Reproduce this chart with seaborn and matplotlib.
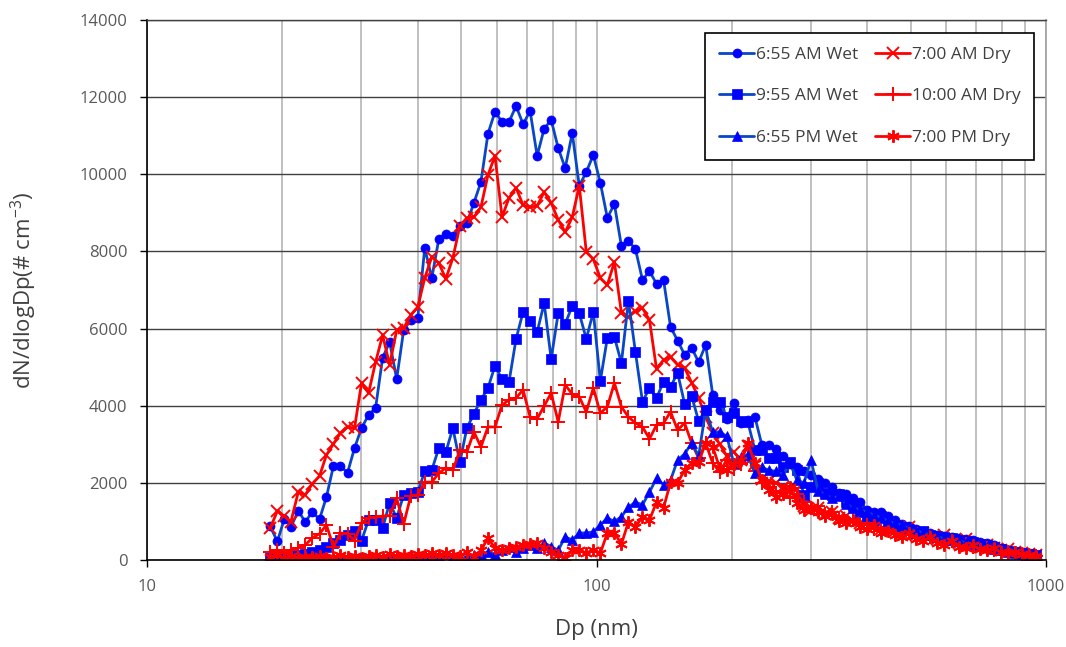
import numpy as np
import pandas as pd
import matplotlib
matplotlib.use("Agg")
import matplotlib.pyplot as plt
import seaborn as sns
from matplotlib.ticker import FixedLocator, NullFormatter

# particle diameter bins (nm), 64 channels per decade
dp = [18.8, 19.5, 20.2, 20.9, 21.7, 22.5, 23.3, 24.2,
      25.07, 25.99, 26.94, 27.93, 28.95, 30.01, 31.11, 32.25,
      33.43, 34.66, 35.93, 37.24, 38.61, 40.02, 41.49, 43.01,
      44.58, 46.22, 47.91, 49.66, 51.48, 53.37, 55.32, 57.35,
      59.45, 61.63, 63.89, 66.23, 68.65, 71.17, 73.78, 76.48,
      79.28, 82.18, 85.19, 88.32, 91.55, 94.90, 98.38, 101.98,
      105.72, 109.59, 113.61, 117.77, 122.08, 126.56, 131.19, 136.00,
      140.98, 146.14, 151.50, 157.05, 162.80, 168.76, 174.95, 181.36,
      188.0, 194.9, 202.0, 209.4, 217.1, 225.1, 233.3, 241.8,
      250.7, 259.9, 269.4, 279.3, 289.5, 300.1, 311.1, 322.5,
      334.3, 346.6, 359.3, 372.4, 386.1, 400.2, 414.9, 430.1,
      445.8, 462.2, 479.1, 496.6, 514.8, 533.7, 553.2, 573.5,
      594.5, 616.3, 638.9, 662.3, 686.5, 711.7, 737.8, 764.8,
      792.8, 821.8, 851.9, 883.2, 915.5, 949.0]

wet_0655am = [870, 480, 1060, 860, 1270, 990, 1240, 1060, 1630, 2440,
              2440, 2260, 2900, 3420, 3760, 3940, 5240, 5650, 4690, 5960,
              6220, 6270, 8090, 7310, 8320, 8450, 8400, 8660, 8740, 9260,
              9800, 11050, 11620, 11360, 11360, 11770, 11300, 11640, 10480, 11180,
              11410, 10680, 10160, 11070, 9700, 10060, 10500, 9780, 8870, 9230,
              8140, 8270, 8060, 7260, 7490, 7160, 7260, 6040, 5690, 5320,
              5500, 5130, 5580, 4280, 3890, 3660, 4070, 3550, 3630, 3710,
              2980, 2980, 2880, 2700, 2500, 2400, 2300, 2200, 2100, 2000,
              1900, 1750, 1700, 1600, 1500, 1300, 1250, 1240, 1150, 1050,
              930, 880, 800, 760, 700, 660, 620, 600, 580, 540,
              520, 470, 430, 380, 320, 260, 220, 190, 160, 140]

dry_0700am = [830, 1270, 1140, 990, 1760, 1690, 1970, 2180, 2720, 3010,
              3290, 3450, 3420, 4590, 4330, 5130, 5830, 5060, 5960, 6010,
              6350, 6560, 7310, 7860, 7700, 7290, 7830, 8660, 8870, 8890,
              9150, 9980, 10480, 8890, 9390, 9650, 9200, 9150, 9180, 9540,
              9260, 8820, 8500, 8890, 9700, 7990, 7800, 7310, 7130, 7730,
              6400, 6300, 6450, 6530, 6220, 4950, 5190, 5260, 5060, 4980,
              4600, 4200, 3700, 3300, 3000, 2700, 2800, 2600, 2950, 2500,
              2100, 2050, 2000, 1900, 1800, 1850, 1400, 1300, 1350, 1200,
              1250, 1100, 1150, 1000, 950, 1050, 850, 800, 900, 750,
              700, 850, 650, 700, 600, 550, 650, 500, 450, 550,
              400, 350, 380, 300, 250, 280, 200, 180, 150, 120]

wet_0955am = [50, 80, 60, 100, 130, 150, 200, 250, 340, 440,
              520, 650, 750, 500, 1040, 1040, 830, 1480, 1090, 1690,
              1740, 1760, 2300, 2330, 2900, 2800, 3420, 2540, 3420, 3790,
              4150, 4460, 5030, 4690, 4620, 5730, 6430, 6200, 5910, 6660,
              5210, 6400, 6120, 6590, 6400, 5730, 6430, 4640, 5760, 5780,
              5110, 6720, 5390, 4100, 4460, 4200, 4620, 4490, 4850, 4050,
              4250, 3600, 3900, 4100, 4100, 3700, 3810, 3600, 3580, 2850,
              2850, 2650, 2650, 2400, 2540, 2330, 1690, 1900, 2000, 1740,
              1690, 1700, 1500, 1400, 1250, 1100, 1040, 1150, 950, 900,
              850, 800, 700, 750, 650, 620, 600, 560, 520, 500,
              470, 420, 380, 330, 280, 230, 200, 180, 150, 130]

dry_1000am = [210, 260, 180, 250, 310, 390, 570, 680, 910, 340,
              700, 680, 500, 960, 1090, 1110, 1140, 1150, 1600, 930,
              1660, 1690, 2020, 2020, 2250, 2390, 2330, 2850, 2800, 3320,
              2930, 3450, 3450, 4020, 4150, 4200, 4410, 3710, 3660, 3990,
              4330, 3580, 4540, 4300, 4230, 3840, 4460, 3810, 3970, 4590,
              3970, 3710, 3550, 3450, 3140, 3500, 3550, 3840, 3370, 3550,
              3030, 2640, 3030, 2510, 2280, 2600, 2350, 2500, 2700, 2300,
              2000, 1900, 1750, 1800, 1600, 1700, 1500, 1350, 1400, 1200,
              1250, 1100, 1000, 1050, 900, 950, 800, 750, 850, 700,
              650, 700, 600, 550, 600, 500, 450, 500, 400, 420,
              350, 300, 320, 250, 220, 200, 170, 150, 130, 100]

wet_0655pm = [30, 50, 20, 40, 60, 30, 50, 40, 70, 40,
              60, 80, 50, 90, 70, 100, 60, 90, 110, 80,
              120, 100, 130, 90, 120, 180, 100, 20, 90, 130,
              150, 200, 150, 250, 340, 200, 300, 390, 300, 440,
              350, 250, 600, 520, 700, 700, 730, 910, 1090, 1000,
              1120, 1370, 1500, 1430, 1760, 2120, 1950, 2070, 2590, 2750,
              3030, 2700, 3890, 3320, 3320, 3210, 2510, 2670, 2720, 2250,
              2400, 2330, 2300, 2200, 2510, 2070, 2000, 2590, 1800, 1700,
              1600, 1650, 1450, 1350, 1300, 1250, 1150, 1100, 1000, 950,
              900, 800, 750, 700, 650, 600, 550, 520, 500, 450,
              420, 380, 330, 290, 250, 210, 180, 150, 130, 110]

dry_0700pm = [80, 120, 60, 100, 50, 90, 70, 110, 60, 80,
              120, 70, 100, 60, 110, 130, 90, 150, 100, 140,
              110, 150, 120, 170, 140, 180, 120, 100, 210, 80,
              250, 570, 310, 260, 300, 350, 390, 420, 440, 310,
              210, 130, 50, 260, 260, 180, 260, 180, 700, 700,
              410, 990, 860, 1120, 1040, 1500, 1350, 2020, 2000, 2330,
              2510, 2540, 3030, 2930, 2390, 2330, 2500, 2590, 3030, 2510,
              2070, 1810, 1630, 1700, 1890, 1480, 1300, 1350, 1250, 1150,
              1200, 1000, 950, 1050, 850, 800, 900, 700, 750, 650,
              600, 700, 550, 500, 600, 450, 400, 500, 350, 300,
              380, 280, 250, 300, 200, 180, 220, 150, 120, 100]

sns.set_style("white")
plt.rcParams['font.family'] = ['Open Sans', 'DejaVu Sans']
plt.rcParams['mathtext.default'] = 'regular'

fig = plt.figure(figsize=(10.66, 6.47), dpi=100)
ax = fig.add_axes([147 / 1066, 1 - 560 / 647, 899 / 1066, 540 / 647])

blue_line, blue_mk, red = "#0a46c8", "#0000ff", "#ff0000"
series = [
    ("6:55 AM Wet", wet_0655am, "o", 6.5, "wet"),
    ("7:00 AM Dry", dry_0700am, "x", 8, "dry"),
    ("9:55 AM Wet", wet_0955am, "s", 6.5, "wet"),
    ("10:00 AM Dry", dry_1000am, "+", 10, "dry"),
    ("6:55 PM Wet", wet_0655pm, "^", 7.5, "wet"),
    ("7:00 PM Dry", dry_0700pm, (6, 2, 0), 9, "dry"),
]

handles = {}
for label, vals, mk, ms, kind in series:
    df = pd.DataFrame({"Dp": dp, "dN": vals})
    if kind == "wet":
        kw = dict(color=blue_line, markerfacecolor=blue_mk, markeredgecolor=blue_mk,
                  markeredgewidth=0.5)
    else:
        kw = dict(color=red, markerfacecolor=red, markeredgecolor=red,
                  markeredgewidth=1.4)
    sns.lineplot(data=df, x="Dp", y="dN", ax=ax, marker=mk, markersize=ms,
                 linewidth=2, errorbar=None, label=label, **kw)
    handles[label] = ax.get_lines()[-1]

ax.set_xscale("log")
ax.set_xlim(10, 1000)
ax.set_ylim(0, 14000)
ax.set_yticks(np.arange(0, 14001, 2000))
ax.xaxis.set_major_locator(FixedLocator([10, 100, 1000]))
ax.set_xticklabels(["10", "100", "1000"])
minor = [m * d for d in (10, 100) for m in range(2, 10)]
ax.xaxis.set_minor_locator(FixedLocator(minor))
ax.xaxis.set_minor_formatter(NullFormatter())

ax.set_axisbelow(True)
ax.grid(True, axis="y", which="major", color="#404040", linewidth=1.0)
ax.grid(True, axis="x", which="both", color="#c0c0c0", linewidth=1.4)

for side in ("left", "bottom"):
    ax.spines[side].set_color("black")
    ax.spines[side].set_linewidth(1.2)
ax.spines["top"].set_color("#404040")
ax.spines["top"].set_linewidth(1.0)
ax.spines["right"].set_color("#a0a0a0")
ax.spines["right"].set_linewidth(1.2)

ax.tick_params(axis="both", which="major", direction="out", length=5, width=1,
               color="black", labelcolor="#595959", labelsize=12, pad=9)
ax.tick_params(axis="x", which="minor", length=0)
ax.tick_params(axis="y", left=True)
ax.tick_params(axis="x", bottom=True)

ax.set_xlabel("Dp (nm)", fontsize=16, color="#404040")
ax.set_ylabel("dN/dlogDp(# cm$^{-3}$)", fontsize=16, color="#404040")
ax.xaxis.set_label_coords(0.5, -(619 - 560) / 540)
ax.yaxis.set_label_coords((39 - 147) / 899, 0.5)

order = ["6:55 AM Wet", "9:55 AM Wet", "6:55 PM Wet",
         "7:00 AM Dry", "10:00 AM Dry", "7:00 PM Dry"]
leg = ax.legend([handles[k] for k in order], order, ncol=2, loc="upper right",
                bbox_to_anchor=(0.987, 0.976), borderaxespad=0, fontsize=12.5,
                frameon=True, fancybox=False, edgecolor="black", framealpha=1,
                handlelength=2.0, handletextpad=0.1, labelspacing=1.45,
                columnspacing=1.0, borderpad=0.8)
leg.get_frame().set_linewidth(1.2)
for t in leg.get_texts():
    t.set_color("#404040")

fig.savefig("out.png", dpi=100)
